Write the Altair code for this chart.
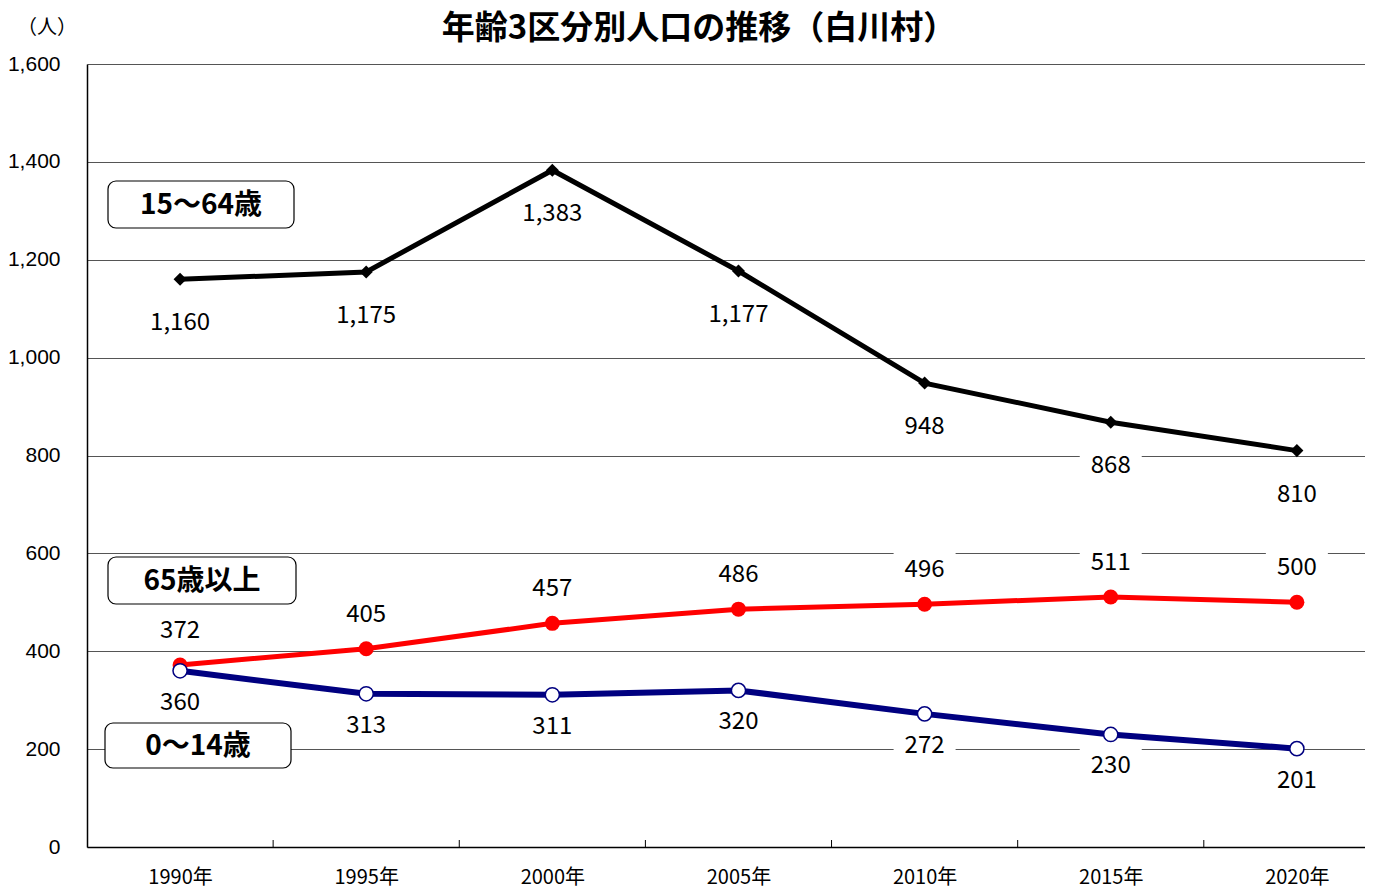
import altair as alt
import pandas as pd

# ---- data ----
years = [1990, 1995, 2000, 2005, 2010, 2015, 2020]
working_age = [1160, 1175, 1383, 1177, 948, 868, 810]   # 15〜64歳
elderly = [372, 405, 457, 486, 496, 511, 500]           # 65歳以上
children = [360, 313, 311, 320, 272, 230, 201]          # 0〜14歳
series_names = ["15〜64歳", "65歳以上", "0〜14歳"]
y_ticks = [0, 200, 400, 600, 800, 1000, 1200, 1400, 1600]
title_text = "年齢3区分別人口の推移（白川村）"
unit_text = "（人）"

W, H = 1278, 783
JP = "Noto Sans CJK JP"

x_scale = alt.Scale(domain=[1987.5, 2021.83], nice=False, zero=False)
y_scale = alt.Scale(domain=[0, 1600], nice=False, zero=True)

x_axis = alt.Axis(values=years, labelExpr="datum.value + '年'", grid=False, ticks=False,
                  domainColor="black", domainWidth=1.5, labelFont=JP, labelFontSize=20,
                  labelPadding=20, labelColor="black", title=None, labelFlush=False)
y_axis = alt.Axis(values=y_ticks, labelExpr="format(datum.value, ',')", grid=True,
                  gridColor="#555", gridWidth=1,
                  domainColor="black", domainWidth=1.5, ticks=False,
                  labelFont="Liberation Sans", labelFontSize=21, labelPadding=27,
                  labelColor="black", title=None)

X = alt.X("year:Q", scale=x_scale, axis=x_axis)
Y = alt.Y("value:Q", scale=y_scale, axis=y_axis)

series_values = [working_age, elderly, children]
styles = [
    dict(color="black", width=5, shape="diamond", size=170, fill="black", stroke="black", sw=0, dy=44),
    dict(color="#ff0000", width=5, shape="circle", size=225, fill="#ff0000", stroke="#ff0000", sw=0, dy=-34),
    dict(color="#000080", width=6, shape="circle", size=200, fill="white", stroke="#000080", sw=1.5, dy=32),
]

box_path = "M-1,-0.65L1,-0.65L1,0.65L-1,0.65Z"

bg_layers, line_layers, mark_layers, text_layers = [], [], [], []
for name, vals, st in zip(series_names, series_values, styles):
    df = pd.DataFrame({"year": years, "value": vals, "series": name})
    base = alt.Chart(df).encode(x=X, y=Y)
    bg_layers.append(base.mark_point(shape=box_path, size=3844, filled=True, fill="white",
                                     opacity=1, strokeWidth=0, yOffset=st["dy"]))
    line_layers.append(base.mark_line(color=st["color"], strokeWidth=st["width"]))
    mark_layers.append(base.mark_point(shape=st["shape"], size=st["size"], filled=True,
                                       fill=st["fill"], stroke=st["stroke"],
                                       strokeWidth=st["sw"], opacity=1))
    text_layers.append(base.mark_text(dy=st["dy"], font=JP, fontSize=24, color="black",
                                      baseline="middle").encode(
        text=alt.Text("value:Q", format=",")))

# inner tick marks between categories on the x axis
bounds = pd.DataFrame({"year": [(a + b) / 2 for a, b in zip(years, years[1:])]})
tick_layer = alt.Chart(bounds).mark_rule(color="black", strokeWidth=1).encode(
    x=X, y=alt.value(H), y2=alt.value(H - 7))

# legend boxes (annotations)
legend_pos = [(21, 207, 117, 164), (21, 209, 493, 540), (18, 204, 659, 704)]
legend_layers = []
for name, (x1, x2, y1, y2) in zip(series_names, legend_pos):
    d = pd.DataFrame({"t": [name]})
    legend_layers.append(alt.Chart(d).mark_rect(fill="white", stroke="black", strokeWidth=1.2,
                                                cornerRadius=8).encode(
        x=alt.value(x1), x2=alt.value(x2), y=alt.value(y1), y2=alt.value(y2)))
    legend_layers.append(alt.Chart(d).mark_text(font=JP, fontSize=28, fontWeight="bold",
                                                color="black", baseline="middle").encode(
        x=alt.value((x1 + x2) / 2), y=alt.value((y1 + y2) / 2 + 1), text="t:N"))

td = pd.DataFrame({"t": [title_text], "u": [unit_text]})
title_layer = alt.Chart(td).mark_text(font=JP, fontSize=33, fontWeight="bold", color="black",
                                      baseline="middle").encode(
    x=alt.value(612), y=alt.value(-35), text="t:N")
unit_layer = alt.Chart(td).mark_text(font=JP, fontSize=20, color="black",
                                     baseline="middle").encode(
    x=alt.value(-40), y=alt.value(-36), text="u:N")

chart = alt.layer(
    *bg_layers, tick_layer, *line_layers, *mark_layers, *text_layers,
    *legend_layers, title_layer, unit_layer
).properties(
    width=W, height=H,
    autosize=alt.AutoSizeParams(type="none"),
    padding={"left": 79, "top": 56, "right": 0, "bottom": 44},
    background="white",
).configure_view(stroke=None)

chart.save("out.html", embed_options={"renderer": "svg", "actions": False})
